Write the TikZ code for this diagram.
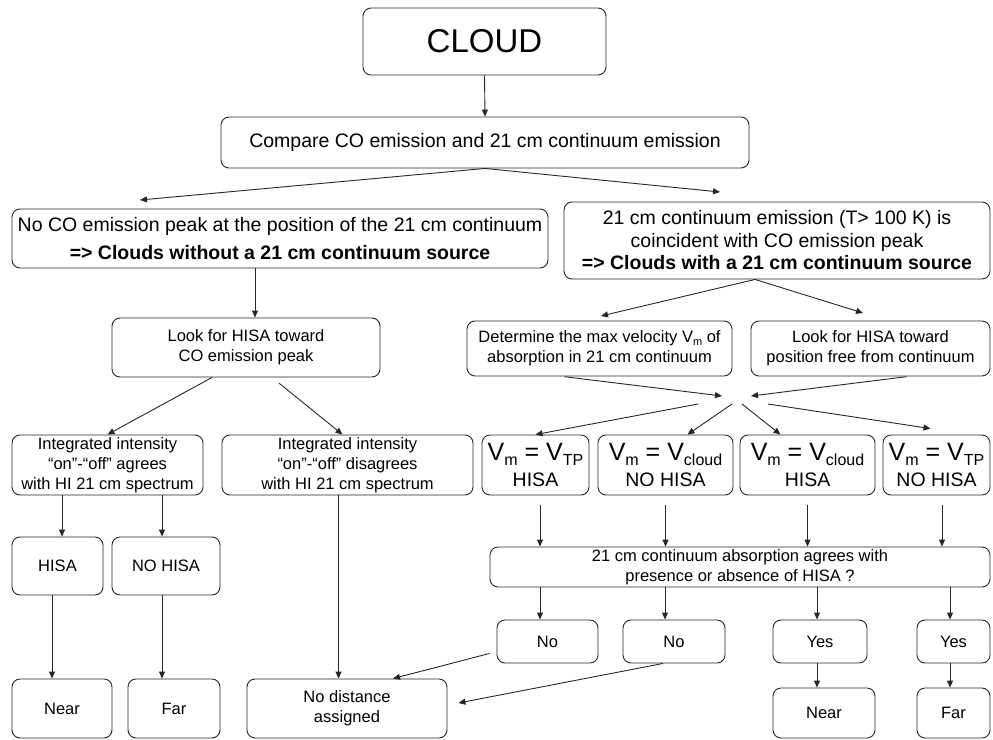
\documentclass[tikz,border=0pt]{standalone}
\usepackage{fontspec}
\setmainfont{Liberation Sans}
\usetikzlibrary{arrows.meta}

\newcommand{\vsub}[1]{\raisebox{-0.35ex}{\fontsize{16}{16}\selectfont #1}}
\newcommand{\vmline}[2]{{\fontsize{25}{25}\selectfont V\vsub{#1} = V\vsub{#2}}}

\begin{document}
\begin{tikzpicture}[x=1pt,y=-1pt,
box/.style={draw=black!85, rounded corners=8pt, line width=0.9pt, align=center, inner sep=0pt},
small/.style={font=\fontsize{16.5}{20}\selectfont},
big/.style={font=\fontsize{19.5}{28}\selectfont},
vbox/.style={box, minimum height=60pt, font=\fontsize{19.5}{22}\selectfont},
arrow/.style={draw=black!85, line width=0.9pt, -{Triangle[length=7pt,width=6pt]}},
]
\useasboundingbox (0,0) rectangle (993,739);
%Nodes
\node[box, minimum width=243pt, minimum height=67pt, font=\fontsize{33}{33}\selectfont] at (484.5,41.5) (cloud) {CLOUD};
\node[box, big, minimum width=528pt, minimum height=51pt] at (485,142.5) (compare) {Compare CO emission and 21 cm continuum emission};
\node[box, big, minimum width=536pt, minimum height=59pt] at (280,238.5) (nocont) {No CO emission peak at the position of the 21 cm continuum\\\textbf{=> Clouds without a 21 cm continuum source}};
\node[box, font=\fontsize{19.5}{22.5}\selectfont, minimum width=426pt, minimum height=77pt] at (777,240.5) (withcont) {21 cm continuum emission (T> 100 K) is\\coincident with CO emission peak\\\textbf{=> Clouds with a 21 cm continuum source}};
\node[box, small, minimum width=268pt, minimum height=59pt] at (246,347.5) (lookco) {Look for HISA toward\\CO emission peak};
\node[box, small, minimum width=265pt, minimum height=55pt] at (599.5,348.5) (determ) {Determine the max velocity V\raisebox{-0.3ex}{\fontsize{11}{11}\selectfont m} of\\absorption in 21 cm continuum};
\node[box, small, minimum width=239pt, minimum height=55pt] at (870.5,348.5) (lookfree) {Look for HISA toward\\position free from continuum};
\node[box, small, minimum width=191pt, minimum height=60pt] at (107.5,465) (agree) {Integrated intensity\\``on''-``off'' agrees\\with HI 21 cm spectrum};
\node[box, small, minimum width=251pt, minimum height=60pt] at (347.5,465) (disagree) {Integrated intensity\\``on''-``off'' disagrees\\with HI 21 cm spectrum};
\node[vbox, minimum width=107pt] at (535.5,465) (va) {\vmline{m}{TP}\\[4pt]HISA};
\node[vbox, minimum width=135pt] at (665.5,465) (vb) {\vmline{m}{cloud}\\[4pt]NO HISA};
\node[vbox, minimum width=135pt] at (807.5,465) (vc) {\vmline{m}{cloud}\\[4pt]HISA};
\node[vbox, minimum width=107pt] at (936.5,465) (vd) {\vmline{m}{TP}\\[4pt]NO HISA};
\node[box, small, minimum width=91pt, minimum height=58pt] at (57.5,566) (hisa) {HISA};
\node[box, small, minimum width=108pt, minimum height=58pt] at (166,566) (nohisa) {NO HISA};
\node[box, small, minimum width=500pt, minimum height=40pt] at (740,567) (absorb) {21 cm continuum absorption agrees with\\presence or absence of HISA ?};
\node[box, small, minimum width=101pt, minimum height=43pt] at (547.5,641.5) (no1) {No};
\node[box, small, minimum width=102pt, minimum height=43pt] at (674,641.5) (no2) {No};
\node[box, small, minimum width=94pt, minimum height=43pt] at (820,641.5) (yes1) {Yes};
\node[box, small, minimum width=73pt, minimum height=43pt] at (953.5,641.5) (yes2) {Yes};
\node[box, small, minimum width=100pt, minimum height=59pt] at (62,708.5) (near1) {Near};
\node[box, small, minimum width=92pt, minimum height=59pt] at (174,708.5) (far1) {Far};
\node[box, small, minimum width=200pt, minimum height=59pt] at (347,708.5) (nodist) {No distance\\assigned};
\node[box, small, minimum width=102pt, minimum height=50pt] at (824,713) (near2) {Near};
\node[box, small, minimum width=73pt, minimum height=50pt] at (953.5,713) (far2) {Far};
%Free ends
\coordinate (cmpL) at (140,200);
\coordinate (cmpR) at (720,192);
\coordinate (wcL) at (601,316);
\coordinate (wcR) at (863,313);
\coordinate (joinL) at (722,396);
\coordinate (joinR) at (751,396);
\coordinate (outA) at (698,404);
\coordinate (outB) at (732,404);
\coordinate (outC) at (742,404);
\coordinate (outD) at (768,404);
%Lines
\draw[arrow] (cloud.south) -- (compare.north);
\draw[arrow] (compare.south) -- (cmpL);
\draw[arrow] (compare.south) -- (cmpR);
\draw[arrow] ([xshift=9pt]lookco.north |- nocont.south) -- ([xshift=9pt]lookco.north);
\draw[arrow] ([xshift=-22pt]withcont.south) -- (wcL);
\draw[arrow] ([xshift=-22pt]withcont.south) -- (wcR);
\draw[arrow, shorten <=2pt] ([xshift=-37pt]determ.south) -- (joinL);
\draw[arrow, shorten <=2pt] ([xshift=38pt]lookfree.south) -- (joinR);
\draw[arrow] (outA) -- (va.north);
\draw[arrow] (outB) -- ([xshift=22pt]vb.north);
\draw[arrow] (outC) -- ([xshift=-27pt]vc.north);
\draw[arrow] (outD) -- ([xshift=-6pt,yshift=6pt]vd.north);
\draw[arrow] ([xshift=-34pt]lookco.south) -- (agree.north);
\draw[arrow, shorten <=9pt] ([xshift=26pt]lookco.south) -- ([xshift=-5pt]disagree.north);
\draw[arrow] ([xshift=4.5pt]hisa.north |- agree.south) -- ([xshift=4.5pt]hisa.north);
\draw[arrow] ([xshift=-4pt]nohisa.north |- agree.south) -- ([xshift=-4pt]nohisa.north);
\draw[arrow] ([xshift=-5.5pt]hisa.south) -- ([xshift=-5.5pt]hisa.south |- near1.north);
\draw[arrow] ([xshift=-4pt]nohisa.south) -- ([xshift=-4pt]nohisa.south |- far1.north);
\draw[arrow] ([xshift=-9pt]disagree.south) -- ([xshift=-9pt]disagree.south |- nodist.north);
\foreach \v/\dx in {va/4.5, vb/0, vc/0, vd/5.5}
  \draw[arrow, shorten <=10pt] ([xshift=\dx pt]\v.south) -- ([xshift=\dx pt]\v.south |- absorb.north);
\draw[arrow] ([xshift=-7.5pt]no1.north |- absorb.south) -- ([xshift=-7.5pt]no1.north);
\draw[arrow] ([xshift=-9pt]no2.north |- absorb.south) -- ([xshift=-9pt]no2.north);
\draw[arrow] ([xshift=-3pt]yes1.north |- absorb.south) -- ([xshift=-3pt]yes1.north);
\draw[arrow] ([xshift=-3.5pt]yes2.north |- absorb.south) -- ([xshift=-3.5pt]yes2.north);
\draw[arrow] ([xshift=-3pt]yes1.south) -- ([xshift=-3pt]yes1.south |- near2.north);
\draw[arrow] ([xshift=-3.5pt]yes2.south) -- ([xshift=-3.5pt]yes2.south |- far2.north);
\draw[arrow] ([xshift=-7pt,yshift=10pt]no1.south west) -- ([xshift=46pt]nodist.north);
\draw[arrow] ([xshift=-11pt]no2.south) -- ([xshift=11pt,yshift=5.5pt]nodist.east);
\end{tikzpicture}
\end{document}
